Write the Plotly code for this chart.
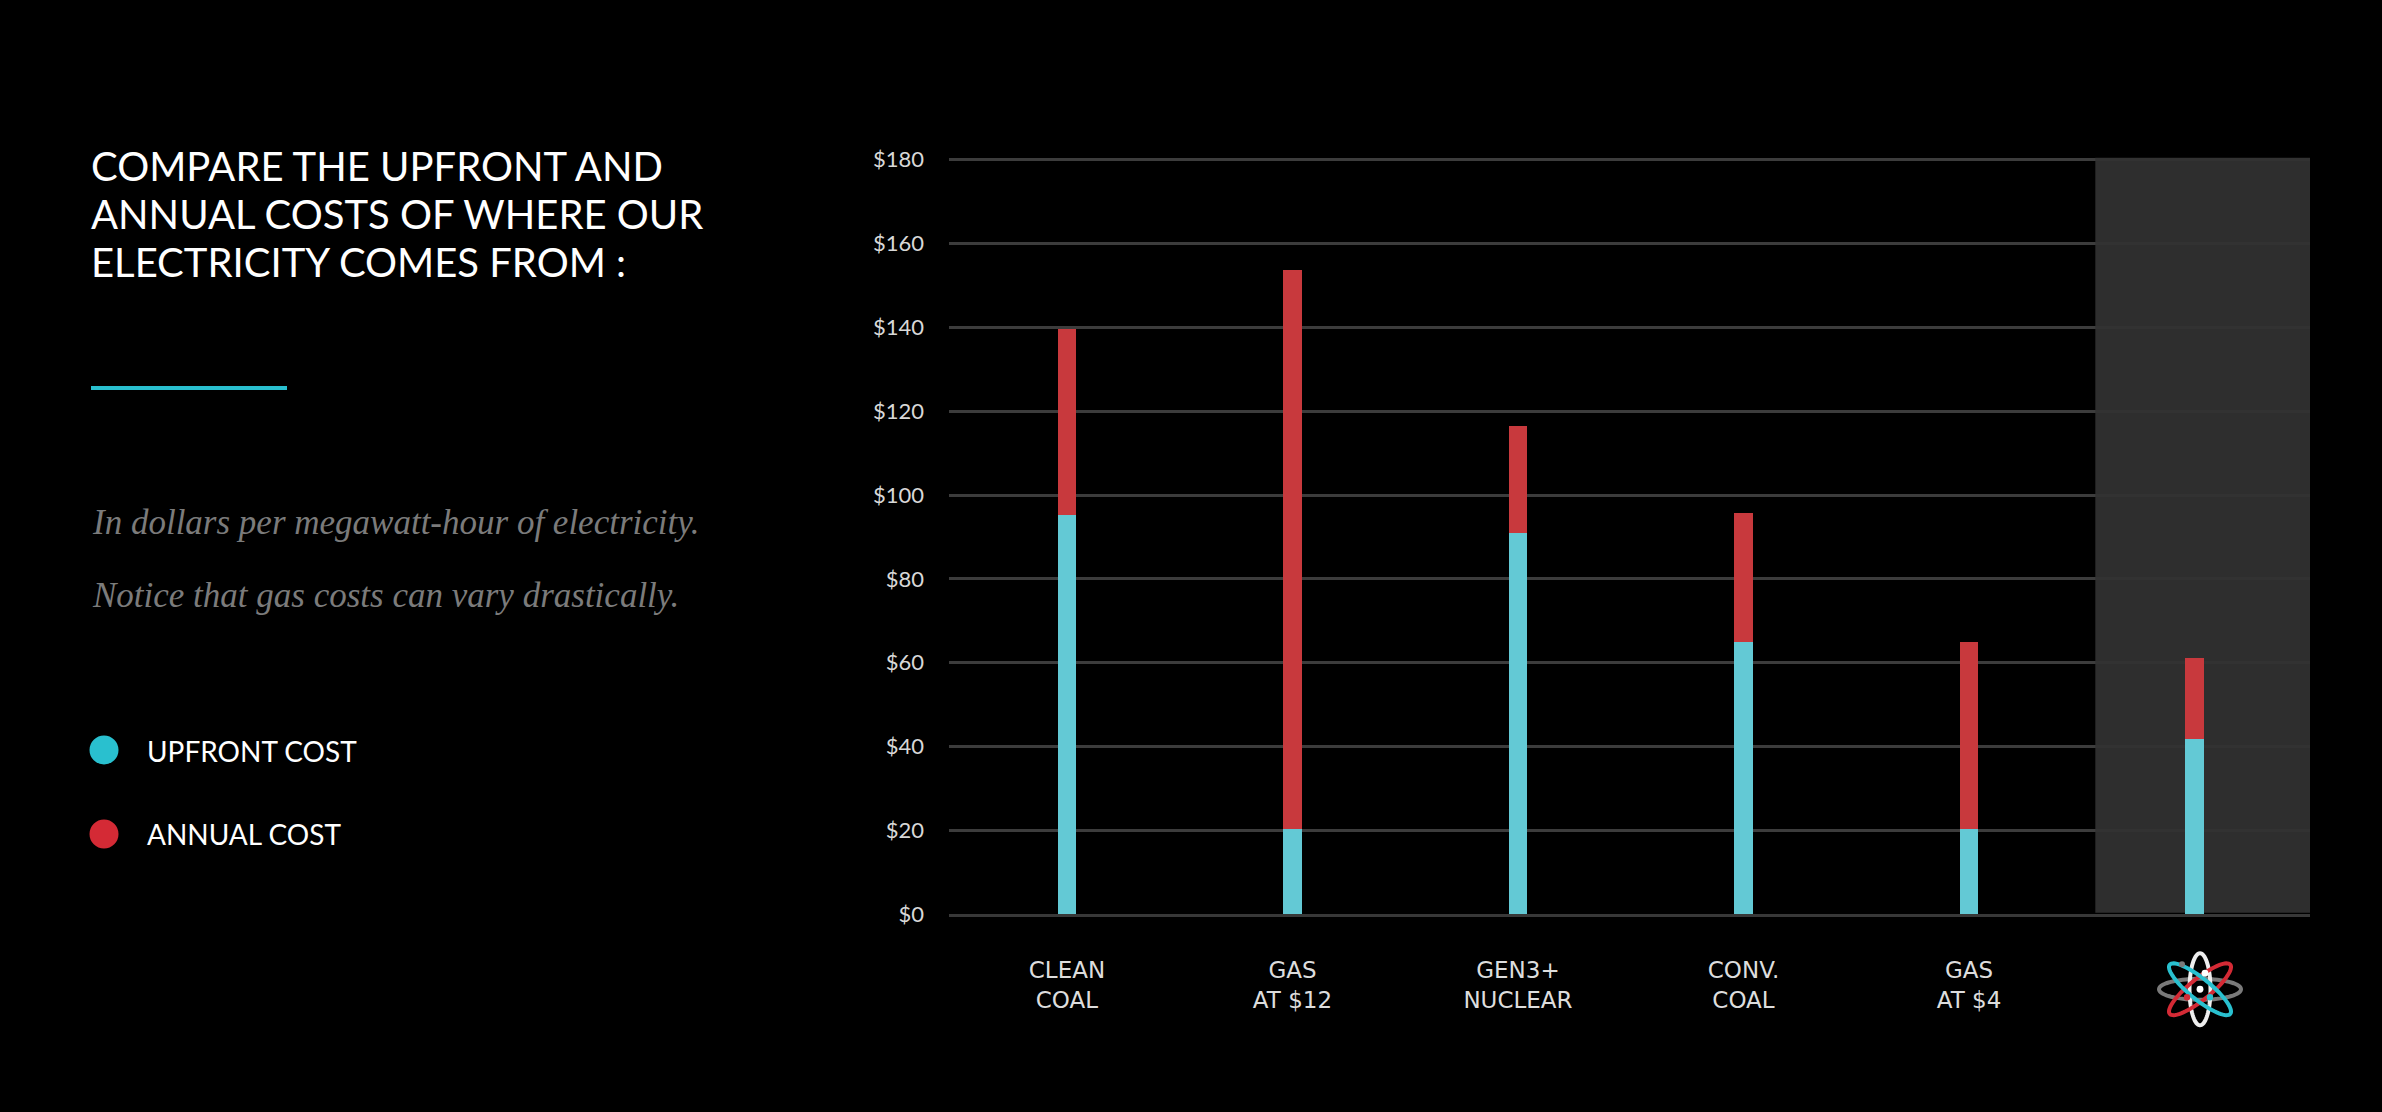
import math
import plotly.graph_objects as go

# ---------------- data ----------------
categories = ["CLEAN<br>COAL", "GAS<br>AT $12", "GEN3+<br>NUCLEAR", "CONV.<br>COAL", "GAS<br>AT $4", ""]
upfront_cost = [95.2, 20.4, 90.8, 64.8, 20.4, 41.8]
annual_cost = [44.3, 133.1, 25.6, 30.8, 44.4, 19.2]
y_ticks = [0, 20, 40, 60, 80, 100, 120, 140, 160, 180]
y_tick_labels = ["$0", "$20", "$40", "$60", "$80", "$100", "$120", "$140", "$160", "$180"]

title_lines = ["COMPARE THE UPFRONT AND", "ANNUAL COSTS OF WHERE OUR", "ELECTRICITY COMES FROM :"]
subtitle_lines = ["In dollars per megawatt-hour of electricity.", "Notice that gas costs can vary drastically."]
legend_names = ["UPFRONT COST", "ANNUAL COST"]

# ---------------- styling ----------------
W, H = 2382, 1112
CYAN_BAR = "#63c9d5"
RED_BAR = "#c8393d"
CYAN = "#29c0cf"
RED = "#d42a35"
BG = "#000000"

# vertical placement correction observed for the page capture
VA, VB = 0.978, 10.05


def px(x):
    return x / W


def py(y):
    return 1 - ((y - VB) / VA) / H


x_idx = list(range(len(categories)))

fig = go.Figure()
fig.add_trace(go.Bar(x=x_idx, y=upfront_cost, name=legend_names[0], marker=dict(color=CYAN_BAR, line=dict(width=0)),
                     width=0.083, showlegend=False))
fig.add_trace(go.Bar(x=x_idx, y=annual_cost, name=legend_names[1], marker=dict(color=RED_BAR, line=dict(width=0)),
                     width=0.083, showlegend=False))

shapes = []
last = x_idx[-1]
shapes.append(dict(type="rect", xref="x", yref="y", x0=last - 0.44, x1=last + 0.52, y0=0.4, y1=180.4,
                   fillcolor="rgba(50,50,50,0.93)", line=dict(width=0), layer="between"))

shapes.append(dict(type="line", xref="paper", yref="paper", x0=px(91), x1=px(287), y0=py(387.5), y1=py(387.5),
                   line=dict(color=CYAN, width=4)))

for cy, col in [(749, CYAN), (833, RED)]:
    r = 14.5
    shapes.append(dict(type="circle", xref="paper", yref="paper", x0=px(104 - r), x1=px(104 + r),
                       y0=py(cy + r), y1=py(cy - r), fillcolor=col, line=dict(width=0)))


def ellipse_path(cx, cy, a, b, ang):
    t = math.radians(ang)
    pts = []
    for k in range(73):
        s = 2 * math.pi * k / 72
        ex = cx + a * math.cos(s) * math.cos(t) - b * math.sin(s) * math.sin(t)
        ey = cy + a * math.cos(s) * math.sin(t) + b * math.sin(s) * math.cos(t)
        pts.append(f"{px(ex):.6f},{py(ey):.6f}")
    return "M " + " L ".join(pts) + " Z"


LCX, LCY = 2200, 988
for a, b, ang, col in [(41, 10.5, 0, "#7a7a7a"), (36, 10.5, 90, "#eeeeee"), (39, 10.5, -39, RED),
                       (39, 10.5, 39, CYAN)]:
    shapes.append(dict(type="path", xref="paper", yref="paper", path=ellipse_path(LCX, LCY, a, b, ang),
                       line=dict(color=col, width=4), fillcolor="rgba(0,0,0,0)"))
for dx, dy, r, col in [(0, 0, 3.4, "#ffffff"), (5, -16, 3.4, "#ffffff"), (10, 8, 3.2, CYAN), (-13, 8, 3.2, RED),
                       (-18, -25, 3, "#7a7a7a")]:
    shapes.append(dict(type="circle", xref="paper", yref="paper", x0=px(LCX + dx - r), x1=px(LCX + dx + r),
                       y0=py(LCY + dy + r), y1=py(LCY + dy - r), fillcolor=col, line=dict(width=0)))

annotations = []
for line, cy in zip(title_lines, [165.5, 214, 262]):
    annotations.append(dict(text=line, xref="paper", yref="paper", x=px(89), y=py(cy), xanchor="left",
                            yanchor="middle", showarrow=False,
                            font=dict(family="Lato", size=40, color="#ffffff")))
for line, cy in zip(subtitle_lines, [522, 595]):
    annotations.append(dict(text=f"<i>{line}</i>", xref="paper", yref="paper", x=px(90), y=py(cy), xanchor="left",
                            yanchor="middle", showarrow=False,
                            font=dict(family="Liberation Serif", size=35, color="#7b7b7b")))
for name, cy in zip(legend_names, [750, 833]):
    annotations.append(dict(text=name, xref="paper", yref="paper", x=px(145), y=py(cy), xanchor="left",
                            yanchor="middle", showarrow=False,
                            font=dict(family="Lato", size=28, color="#ffffff")))

PX_PER_UNIT = (913.3 - 159.3) / 180
fig.update_layout(
    width=W, height=H,
    margin=dict(l=0, r=0, t=0, b=0),
    paper_bgcolor=BG, plot_bgcolor=BG,
    barmode="stack", bargap=0,
    shapes=shapes, annotations=annotations,
    xaxis=dict(domain=[px(949), px(2310)], range=[-0.523, 5.512], tickmode="array", tickvals=x_idx,
               ticktext=categories, showgrid=False, zeroline=False, showline=True, linecolor="#383838",
               linewidth=3, ticks="", ticklabelstandoff=33,
               tickfont=dict(family="DejaVu Sans", size=23, color="#dddddd")),
    yaxis=dict(domain=[py(913.3), py(159.3 - PX_PER_UNIT)], range=[0, 181], tickmode="array", tickvals=y_ticks,
               ticktext=y_tick_labels, showgrid=True, gridcolor="#3c3c3c", gridwidth=2.5, zeroline=False,
               showline=False, ticks="", ticklabelstandoff=24,
               tickfont=dict(family="Lato", size=22, color="#d8d8d8")),
)

fig.write_html("out.html", config={"displayModeBar": False},
               post_script="document.body.style.margin='0';document.body.style.overflow='hidden';document.body.style.background='#000';")
